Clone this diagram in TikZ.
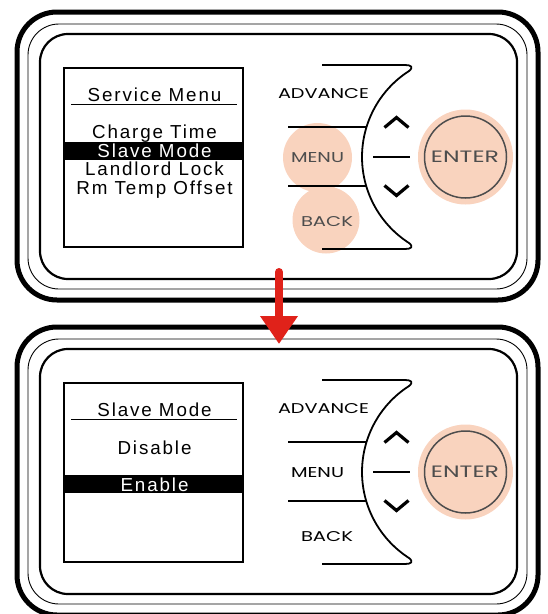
\documentclass[tikz,border=0pt]{standalone}
\usepackage{fontspec}
\usepackage{graphicx}
\usetikzlibrary{arrows.meta}
\newfontfamily\scrfont[LetterSpace=10]{Liberation Sans}
\newfontfamily\keyfont{Poppins}
\definecolor{peach}{HTML}{F9D3BE}
\definecolor{keygray}{HTML}{4D4D4D}
\definecolor{arrowred}{HTML}{E0221A}
\newcommand\keylabel[3]{\resizebox{#1pt}{#2pt}{\keyfont #3}}
\newcommand\padframe[1]{%
  \draw[outerframe] (17,12) rectangle (538,300);
  \draw[midframe] (28,24) rectangle (527,289);
  \draw[innerframe] (40,34) rectangle (517,279);
  \draw[screenbox] (64,68) rectangle (243,247);
  \draw[screenrule] (71,104.5) -- (237,104.5);
}
\newcommand\padkeys[1]{%
  \fill[peach] (465.5,157) circle[radius=47.5pt];
  \node[draw=keygray, line width=1.5pt, circle, minimum size=82pt, inner sep=0pt] (#1enterring) at (465.5,157) {};
  \node[keytext, text=keygray] (#1enter) at (465,162.5) {\keylabel{68}{11.5}{ENTER}};
  \node[keytext] (#1advance) at (323.5,98.5) {\keylabel{91}{10}{ADVANCE}};
  \draw[keyline, line join=round] (322,65) -- (405,65) .. controls (411,65) and (414,67) .. (409,71)
     arc[start angle=122.7, end angle=237.3, radius=102.2pt]
     .. controls (414,247) and (411,249) .. (405,249) -- (322,249);
  \draw[keyline] (288,127) -- (366.5,127);
  \draw[keyline] (288,186) -- (366.2,186);
  \draw[keyline] (373,157) -- (410,157);
  \draw[chevron] (384.5,127.5) -- (396.5,117.5) -- (408.5,127.5);
  \draw[chevron] (384.5,185.5) -- (396.5,195.5) -- (408.5,185.5);
}
\begin{document}
\begin{tikzpicture}[x=1pt,y=-1pt,
  outerframe/.style={line width=5pt, rounded corners=40pt},
  midframe/.style={line width=0.9pt, rounded corners=31pt},
  innerframe/.style={line width=2.2pt, rounded corners=28pt},
  screenbox/.style={line width=1.5pt},
  screenrule/.style={line width=1.8pt},
  scrtext/.style={font=\scrfont\fontsize{18.8}{20}\selectfont, inner sep=0pt, anchor=base},
  keyline/.style={line width=1.8pt},
  chevron/.style={line width=3.2pt},
  keytext/.style={inner sep=0pt, anchor=base},
  hlbar/.style={fill=black}]
\useasboundingbox (0,0) rectangle (547,614);
% ---------- top panel ----------
\fill[peach] (317.5,157.5) circle[radius=34.5pt];
\fill[peach] (326,220) circle[radius=33.5pt];
\padframe{a}
\padkeys{a}
\node[keytext, text=keygray] (amenu) at (317.5,162) {\keylabel{53}{10}{MENU}};
\node[keytext, text=keygray] (aback) at (327,226) {\keylabel{52}{10}{BACK}};
\fill[hlbar] (64,142) rectangle (243,160);
\node[scrtext] (atitle) at (154.5,101) {Service Menu};
\node[scrtext] (acharge) at (154.5,138) {Charge Time};
\node[scrtext, text=white] (aslave) at (154.5,157) {Slave Mode};
\node[scrtext] (alandlord) at (154.5,175) {Landlord Lock};
\node[scrtext] (arm) at (154.5,194) {Rm Temp Offset};
% ---------- bottom panel ----------
\begin{scope}[shift={(0,315)}]
\padframe{b}
\padkeys{b}
\node[keytext] (bmenu) at (317.5,162) {\keylabel{53}{10}{MENU}};
\node[keytext] (bback) at (327,226.5) {\keylabel{52}{10}{BACK}};
\fill[hlbar] (64,160) rectangle (243,178);
\node[scrtext] (btitle) at (154.5,101) {Slave Mode};
\node[scrtext] (bdisable) at (154.5,139) {Disable};
\node[scrtext, text=white] (benable) at (154.5,176) {Enable};
\end{scope}
% ---------- arrow ----------
\coordinate (arrS) at (279,272);
\coordinate (arrE) at (279,344);
\draw[arrowred, line width=8pt, line cap=round, -{Triangle[width=36pt,length=28pt]}] (arrS) -- (arrE);
\end{tikzpicture}
\end{document}
